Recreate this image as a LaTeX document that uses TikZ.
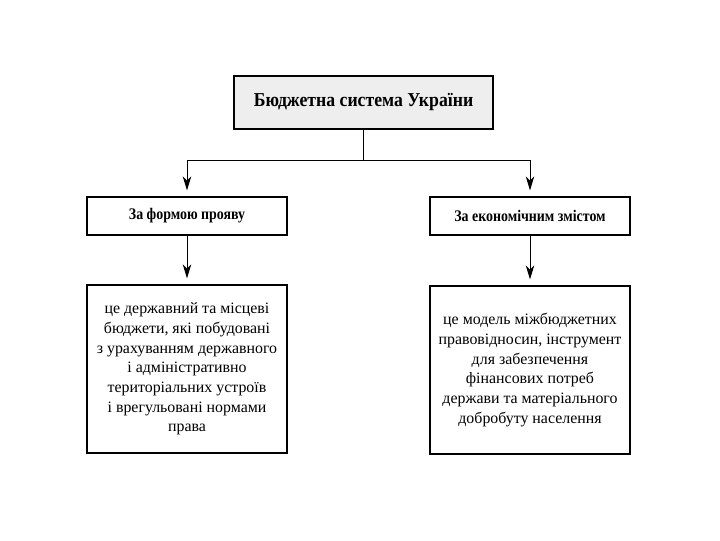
\documentclass[tikz,border=0pt]{standalone}
\usepackage{fontspec}
\setmainfont{Liberation Serif}
\usepackage{tikz}
\usetikzlibrary{arrows.meta,positioning}

\definecolor{titlegray}{HTML}{EEEEEE}

\begin{document}
\begin{tikzpicture}[
  x=0.025cm, y=-0.025cm,
  box/.style={draw, line width=1.3pt, rectangle, align=center, inner sep=2pt},
  head/.style={box, fill=titlegray, minimum width=6.475cm, minimum height=1.325cm, font=\bfseries\fontsize{14}{16}\selectfont},
  kind/.style={box, minimum width=5cm, minimum height=0.95cm, font=\bfseries\fontsize{11.5}{13}\selectfont},
  info/.style={box, minimum width=5cm, minimum height=4.2cm, font=\fontsize{11.3}{14}\selectfont},
  line/.style={line width=0.7pt},
  link/.style={line, -{Stealth[length=10pt,width=6pt,inset=3pt]}, shorten >=4pt}
]
  \useasboundingbox (0,0) rectangle (720,540);

  \node[head] (top) at (363.5,102.5) {\scalebox{0.9}[1]{Бюджетна система України}};

  \node[kind] (form) at (187,216) {\scalebox{0.86}[1]{За формою прояву}};
  \node[kind] (econ) at (530,216) {\scalebox{0.86}[1]{За економічним змістом}};

  \node[info] (formtext) at (187,369) {це державний та місцеві\\бюджети, які побудовані\\з урахуванням державного\\і адміністративно\\територіальних устроїв\\і врегульовані нормами\\права};
  \node[info] (econtext) at (530,370) {це модель міжбюджетних\\правовідносин, інструмент\\для забезпечення\\фінансових потреб\\держави та матеріального\\добробуту населення};

  \coordinate (bus) at (363.5,160);
  \draw[line] (top.south) -- (bus);
  \draw[link] (bus) -| (form.north);
  \draw[link] (bus) -| (econ.north);

  \draw[link] (form.south) -- (formtext.north);
  \draw[link] (econ.south) -- (econtext.north);
\end{tikzpicture}
\end{document}
